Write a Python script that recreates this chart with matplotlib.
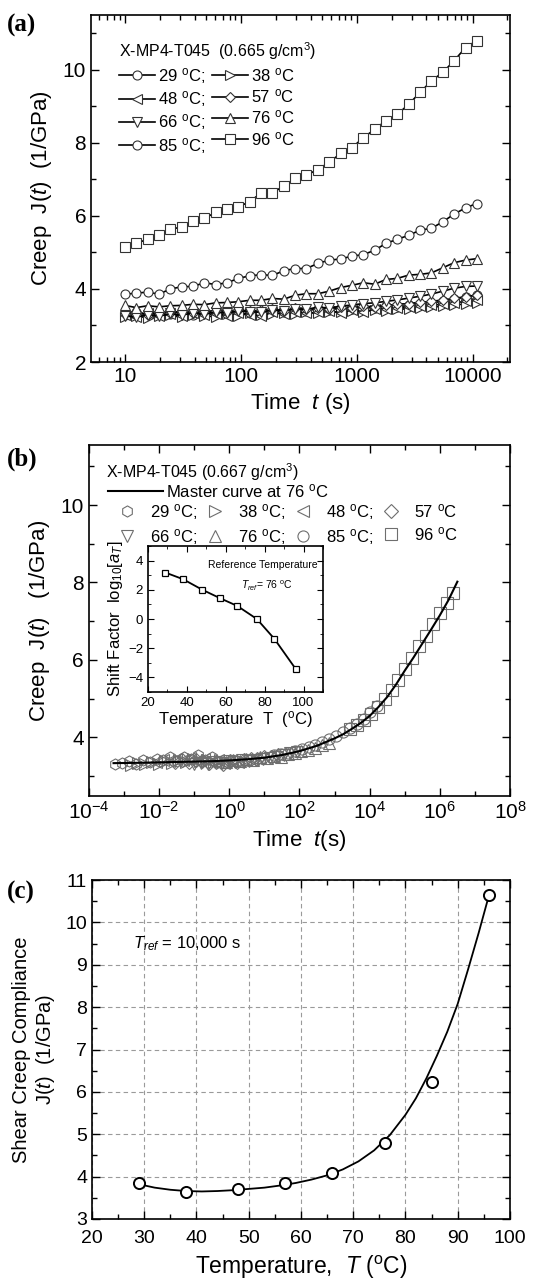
""" Creep compliance of X-MP4-T045: raw curves, master curve, J(10000 s) vs T """

import numpy as np
import matplotlib.pyplot as plt
from matplotlib.ticker import MultipleLocator, FixedLocator, NullFormatter, FuncFormatter
from matplotlib.lines import Line2D

plt.rcParams['font.family'] = ['Liberation Sans', 'DejaVu Sans']
plt.rcParams['mathtext.fontset'] = 'custom'
plt.rcParams['mathtext.rm'] = 'Liberation Sans'
plt.rcParams['mathtext.it'] = 'Liberation Sans:italic'
plt.rcParams['mathtext.bf'] = 'Liberation Sans:bold'
plt.rcParams['axes.linewidth'] = 1.2

# ---------------- data ----------------
temps = [29, 38, 48, 57, 66, 76, 85, 96]
markers_a = ['o', '>', '<', 'D', 'v', '^', 'o', 's']
markers_b = ['h', '>', '<', 'D', 'v', '^', 'o', 's']

# (a) test times (s)
t_a = [10, 12.5, 15.7, 19.7, 24.7, 30.9, 38.7, 48.5, 60.8, 76.2, 95.4, 119.6,
       149.8, 187.7, 235, 295, 369, 463, 580, 727, 911, 1141, 1430, 1792,
       2246, 2814, 3527, 4419, 5538, 6940, 8696, 10897]

J_a = {
    29: [3.28, 3.36, 3.30, 3.35, 3.32, 3.38, 3.30, 3.40, 3.33, 3.36, 3.42, 3.35,
         3.38, 3.41, 3.37, 3.44, 3.40, 3.46, 3.42, 3.48, 3.45, 3.50, 3.47, 3.52,
         3.50, 3.56, 3.58, 3.62, 3.66, 3.72, 3.78, 3.84],
    38: [3.22, 3.27, 3.20, 3.25, 3.28, 3.22, 3.30, 3.26, 3.24, 3.31, 3.27, 3.33,
         3.29, 3.31, 3.35, 3.32, 3.36, 3.34, 3.38, 3.36, 3.40, 3.38, 3.42, 3.40,
         3.44, 3.46, 3.48, 3.50, 3.53, 3.56, 3.59, 3.62],
    48: [3.30, 3.22, 3.33, 3.26, 3.31, 3.25, 3.34, 3.28, 3.32, 3.27, 3.35, 3.30,
         3.26, 3.36, 3.31, 3.38, 3.33, 3.36, 3.40, 3.35, 3.42, 3.38, 3.44, 3.46,
         3.48, 3.50, 3.53, 3.56, 3.58, 3.62, 3.66, 3.70],
    57: [3.32, 3.38, 3.30, 3.36, 3.34, 3.40, 3.33, 3.38, 3.41, 3.36, 3.43, 3.39,
         3.42, 3.45, 3.40, 3.47, 3.44, 3.48, 3.46, 3.50, 3.48, 3.53, 3.51, 3.55,
         3.58, 3.60, 3.63, 3.66, 3.70, 3.74, 3.79, 3.83],
    66: [3.27, 3.22, 3.30, 3.25, 3.33, 3.28, 3.35, 3.31, 3.37, 3.34, 3.40, 3.38,
         3.36, 3.43, 3.41, 3.46, 3.44, 3.50, 3.48, 3.53, 3.56, 3.60, 3.62, 3.66,
         3.70, 3.75, 3.80, 3.86, 3.94, 4.02, 4.07, 4.08],
    76: [3.55, 3.49, 3.54, 3.51, 3.54, 3.55, 3.58, 3.57, 3.62, 3.63, 3.65, 3.69,
         3.69, 3.74, 3.72, 3.83, 3.87, 3.87, 3.94, 4.04, 4.10, 4.17, 4.13, 4.26,
         4.29, 4.38, 4.40, 4.44, 4.58, 4.72, 4.79, 4.83],
    85: [3.85, 3.89, 3.91, 3.86, 4.00, 4.06, 4.07, 4.17, 4.12, 4.17, 4.29, 4.36,
         4.39, 4.37, 4.50, 4.56, 4.56, 4.70, 4.79, 4.82, 4.90, 4.94, 5.06, 5.25,
         5.36, 5.47, 5.61, 5.66, 5.84, 6.05, 6.22, 6.34],
    96: [5.14, 5.25, 5.36, 5.48, 5.63, 5.70, 5.86, 5.93, 6.10, 6.18, 6.25, 6.39,
         6.63, 6.63, 6.82, 7.03, 7.12, 7.27, 7.47, 7.71, 7.87, 8.14, 8.37, 8.61,
         8.78, 9.06, 9.38, 9.70, 9.93, 10.25, 10.61, 10.80],
}

# (b) shifted data (every second test time), log10 shift per temperature
t_b = t_a[::2]
log_shift_b = [-4.25, -3.8, -3.1, -2.55, -2.0, -1.1, 0.28, 2.45]
J_b = {
    29: [3.30, 3.34, 3.38, 3.31, 3.42, 3.36, 3.45, 3.40, 3.48, 3.38, 3.50, 3.44, 3.54, 3.40, 3.48, 3.36],
    38: [3.28, 3.33, 3.30, 3.36, 3.32, 3.38, 3.34, 3.42, 3.37, 3.44, 3.38, 3.42, 3.36, 3.40, 3.35, 3.38],
    48: [3.36, 3.42, 3.38, 3.45, 3.40, 3.46, 3.39, 3.44, 3.36, 3.41, 3.34, 3.38, 3.35, 3.40, 3.42, 3.46],
    57: [3.35, 3.40, 3.36, 3.42, 3.38, 3.33, 3.37, 3.32, 3.38, 3.35, 3.40, 3.43, 3.45, 3.48, 3.50, 3.53],
    66: [3.30, 3.34, 3.31, 3.36, 3.33, 3.38, 3.36, 3.40, 3.38, 3.42, 3.45, 3.47, 3.50, 3.54, 3.58, 3.63],
    76: [3.36, 3.40, 3.38, 3.44, 3.42, 3.48, 3.46, 3.52, 3.50, 3.57, 3.60, 3.64, 3.68, 3.72, 3.80, 3.86],
    85: [3.53, 3.56, 3.60, 3.64, 3.69, 3.74, 3.80, 3.88, 3.95, 4.04, 4.13, 4.24, 4.35, 4.48, 4.64, 4.80],
    96: [4.20, 4.32, 4.45, 4.60, 4.78, 4.98, 5.22, 5.48, 5.76, 6.05, 6.35, 6.62, 6.92, 7.20, 7.48, 7.72],
}

# master curve at 76 C
mc_logt = [-3.3, -2.5, -1.5, -0.5, 0, 0.5, 1, 1.5, 2, 2.5, 3, 3.25, 3.5, 3.75,
           4, 4.25, 4.5, 4.75, 5, 5.25, 5.5, 5.75, 6, 6.25, 6.5]
mc_J = [3.33, 3.34, 3.36, 3.38, 3.40, 3.43, 3.47, 3.54, 3.64, 3.78, 3.97, 4.08,
        4.22, 4.37, 4.55, 4.78, 5.04, 5.36, 5.72, 6.06, 6.42, 6.78, 7.15, 7.55, 8.02]

# inset shift factors
log_aT = [3.18, 2.73, 2.0, 1.43, 0.89, 0.0, -1.36, -3.43]

# (c) J at 10,000 s
J_10000 = [3.84, 3.63, 3.71, 3.84, 4.09, 4.80, 6.23, 10.65]
T_fit = [29, 32, 35, 38, 41, 44, 47, 50, 53, 56, 59, 62, 65, 68, 71, 74, 77,
         80, 82, 84, 86, 88, 90, 92, 94, 96]
J_fit = [3.82, 3.74, 3.69, 3.66, 3.65, 3.66, 3.68, 3.71, 3.74, 3.79, 3.85, 3.93,
         4.03, 4.17, 4.36, 4.62, 4.98, 5.46, 5.85, 6.32, 6.85, 7.42, 8.08, 8.90,
         9.75, 10.65]

DEG = r'$^{\rm o}$C'
GREY = '#6e6e6e'


def style_axes(ax, size):
    ax.tick_params(which='both', direction='in', top=True, right=True,
                   labelsize=size, width=1.0)
    ax.tick_params(which='major', length=6)
    ax.tick_params(which='minor', length=3.5)


fig = plt.figure(figsize=(5.37, 12.86), dpi=100)

# ---------------- (a) ----------------
ax_a = fig.add_axes([0.1695, 0.7185, 0.780, 0.2698])
handles = {}
for T, m in zip(temps, markers_a):
    ms = 5.5 if m in ('D',) else 6.5
    h, = ax_a.plot(t_a, J_a[T], '-', color='black', lw=1.2, marker=m,
                   ms=ms, mfc='white', mec='#333333', mew=0.8)
    handles[T] = h
ax_a.set_xscale('log')
ax_a.set_xlim(5.1, 21000)
ax_a.set_ylim(2, 11.5)
ax_a.yaxis.set_major_locator(MultipleLocator(2))
ax_a.yaxis.set_minor_locator(MultipleLocator(1))
ax_a.xaxis.set_major_locator(FixedLocator([10, 100, 1000, 10000]))
ax_a.xaxis.set_major_formatter(FuncFormatter(lambda v, p: '%d' % v))
style_axes(ax_a, 15)
ax_a.set_xlabel(r'Time  $t$ (s)', fontsize=16, labelpad=4)
ax_a.set_ylabel(r'Creep  J($t$)  (1/GPa)', fontsize=16, labelpad=6)

order = [29, 48, 66, 85, 38, 57, 76, 96]
labels = [('%d ' % T) + DEG + (';' if T in (29, 48, 66, 85) else '') for T in order]
leg = ax_a.legend([handles[T] for T in order], labels, ncol=2, frameon=False,
                  loc='upper left', bbox_to_anchor=(0.05, 0.945), fontsize=12,
                  handlelength=2.2, handletextpad=0.15, columnspacing=0.4,
                  labelspacing=0.2, borderaxespad=0,
                  title=r'X-MP4-T045  (0.665 g/cm$^3$)', title_fontsize=11.5,
                  alignment='left')

# ---------------- (b) ----------------
ax_b = fig.add_axes([0.1657, 0.3810, 0.784, 0.2729])
ax_b.plot(10.0 ** np.array(mc_logt), mc_J, '-', color='black', lw=1.5, zorder=3)
mk_handles = {}
for T, m, s in zip(temps, markers_b, log_shift_b):
    tr = np.array(t_b) * 10.0 ** s
    ms = 7 if m in ('D',) else 8
    h, = ax_b.plot(tr, J_b[T], ls='none', marker=m, ms=ms, mfc='none',
                   mec=GREY, mew=0.8, zorder=2)
    mk_handles[T] = h
ax_b.set_xscale('log')
ax_b.set_xlim(1e-4, 1e8)
ax_b.set_ylim(2.48, 11.55)
ax_b.yaxis.set_major_locator(FixedLocator([4, 6, 8, 10]))
ax_b.yaxis.set_minor_locator(MultipleLocator(1))
ax_b.xaxis.set_major_locator(FixedLocator([10.0 ** k for k in range(-4, 9, 2)]))
ax_b.xaxis.set_minor_locator(FixedLocator([10.0 ** k for k in range(-3, 8, 2)]))
ax_b.xaxis.set_minor_formatter(NullFormatter())
ax_b.xaxis.set_major_formatter(FuncFormatter(lambda v, p: r'10$^{%d}$' % round(np.log10(v))))
style_axes(ax_b, 15)
ax_b.set_xlabel(r'Time  $t$(s)', fontsize=16, labelpad=4)
ax_b.set_ylabel(r'Creep  J($t$)   (1/GPa)', fontsize=16, labelpad=6)

ax_b.text(0.04, 0.955, r'X-MP4-T045 (0.667 g/cm$^3$)', transform=ax_b.transAxes,
          fontsize=11.5, va='top')
mc_leg = ax_b.legend([Line2D([], [], color='black', lw=1.5)],
                     ['Master curve at 76 ' + DEG], frameon=False,
                     loc='upper left', bbox_to_anchor=(0.045, 0.895), fontsize=12,
                     handlelength=3.3, handletextpad=0.2, borderaxespad=0,
                     borderpad=0)
ax_b.add_artist(mc_leg)
order_b = [29, 66, 38, 76, 48, 85, 57, 96]
labels_b = [('%d ' % T) + DEG + ('' if T in (57, 96) else ';') for T in order_b]
ax_b.legend([mk_handles[T] for T in order_b], labels_b, ncol=4, frameon=False,
            loc='upper left', bbox_to_anchor=(0.061, 0.838), fontsize=12,
            handlelength=1.5, handletextpad=0.6, columnspacing=0.35,
            labelspacing=0.3, borderaxespad=0, borderpad=0)

# inset
ax_i = fig.add_axes([0.2756, 0.4619, 0.3259, 0.1135])
ax_i.plot(temps, log_aT, '-', color='black', lw=1.3, marker='s', ms=4.5,
          mfc='white', mec='black', mew=0.9)
ax_i.set_xlim(20, 110)
ax_i.set_ylim(-5, 5)
ax_i.xaxis.set_major_locator(MultipleLocator(20))
ax_i.xaxis.set_minor_locator(MultipleLocator(10))
ax_i.yaxis.set_major_locator(MultipleLocator(2))
ax_i.yaxis.set_minor_locator(MultipleLocator(1))
ax_i.tick_params(which='both', direction='in', top=True, right=True, labelsize=9.5)
ax_i.tick_params(which='major', length=4)
ax_i.tick_params(which='minor', length=2.5)
ax_i.set_xlabel('Temperature  T  (' + DEG + ')', fontsize=12, labelpad=0)
ax_i.set_ylabel(r'Shift Factor  log$_{10}$[$a_T$]', fontsize=12, labelpad=2)
ax_i.text(0.97, 0.87, 'Reference Temperature', transform=ax_i.transAxes,
          fontsize=7.5, ha='right', va='center')
ax_i.text(0.68, 0.73, r'$T_{ref}$= 76 ' + DEG, transform=ax_i.transAxes,
          fontsize=7.5, ha='center', va='center')

# ---------------- (c) ----------------
ax_c = fig.add_axes([0.1713, 0.0521, 0.7784, 0.2636])
ax_c.plot(T_fit, J_fit, '-', color='black', lw=1.3)
ax_c.plot(temps, J_10000, ls='none', marker='o', ms=8, mfc='white',
          mec='black', mew=1.4, zorder=3)
ax_c.set_xlim(20, 100)
ax_c.set_ylim(3, 11)
ax_c.xaxis.set_major_locator(MultipleLocator(10))
ax_c.xaxis.set_minor_locator(MultipleLocator(5))
ax_c.yaxis.set_major_locator(MultipleLocator(1))
ax_c.yaxis.set_minor_locator(MultipleLocator(0.5))
ax_c.grid(True, which='major', ls=(0, (4, 3)), color='#9a9a9a', lw=0.8)
style_axes(ax_c, 14)
ax_c.tick_params(axis='x', which='major', pad=8)
ax_c.set_xlabel(r'Temperature,  $T$ (' + DEG + ')', fontsize=16.5, labelpad=5)
ax_c.set_ylabel('Shear Creep Compliance\n' + r'J($t$)  (1/GPa)', fontsize=14.5,
                labelpad=6)
ax_c.text(27.8, 9.5, r'$T_{ref}$ = 10,000 s', fontsize=12, va='center')

# panel letters
for y, lab in [(0.9895, '(a)'), (0.652, '(b)'), (0.3150, '(c)')]:
    fig.text(0.012, y, lab, fontsize=18, fontweight='bold',
             family='Liberation Serif', va='top')

fig.savefig('out.png', dpi=100)
